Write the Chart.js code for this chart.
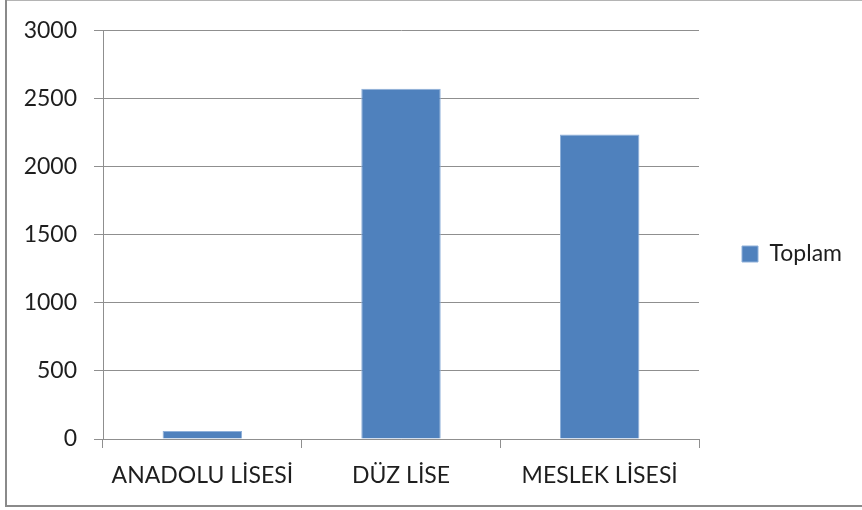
<!DOCTYPE html>
<html>
<head>
<meta charset="utf-8">
<script src="https://cdn.jsdelivr.net/npm/chart.js@4/dist/chart.umd.min.js"></script>
<style>
  html, body { margin: 0; padding: 0; background: #ffffff; }
  #wrap { width: 862px; height: 510px; position: relative; }
</style>
</head>
<body>
<div id="wrap"><canvas id="c" width="862" height="510"></canvas></div>
<script>
// Okul türlerine göre toplam öğrenci sayıları
const categories = ['ANADOLU LİSESİ', 'DÜZ LİSE', 'MESLEK LİSESİ'];
const seriesName = 'Toplam';
const toplam = [58, 2574, 2237];
const yTicks = [0, 500, 1000, 1500, 2000, 2500, 3000];

const FONT = { family: 'Lato, "Open Sans", sans-serif', size: 23 };
const TEXT = '#1e1e1e';
const GRID = '#8f8f8f';
const BAR = '#4f81bd';

// Legend sizing: box + half font gap + text + legend's internal 10px
const LEGEND_PAD = 43;
const BOX = 16;
const mctx = document.createElement('canvas').getContext('2d');
mctx.font = FONT.size + 'px ' + FONT.family;
const legendW = LEGEND_PAD + BOX + FONT.size / 2 + mctx.measureText(seriesName).width + 10;
const PLOT_RIGHT = 699;
const rightPad = Math.max(0, 862 - PLOT_RIGHT - legendW);

// Outer frame drawn around the chart; category labels may use the full lower band
const framePlugin = {
  id: 'frame',
  afterLayout(chart) {
    chart.scales.x.bottom = chart.height;
  },
  beforeDraw(chart) {
    const ctx = chart.ctx;
    ctx.save();
    ctx.fillStyle = '#ffffff';
    ctx.fillRect(0, 0, chart.width, chart.height);
    ctx.fillStyle = '#b4b4b4';
    ctx.fillRect(5, 0, chart.width - 5, 1);
    ctx.fillStyle = '#8a8a8a';
    ctx.fillRect(5, 0, 2, 507);
    ctx.fillRect(5, 505, chart.width - 5, 2);
    ctx.restore();
  }
};

new Chart(document.getElementById('c'), {
  type: 'bar',
  data: {
    labels: categories,
    datasets: [{
      label: seriesName,
      data: toplam,
      backgroundColor: BAR,
      borderColor: '#8fb0d9',
      borderWidth: 1,
      barPercentage: 0.4,
      categoryPercentage: 1.0
    }]
  },
  options: {
    responsive: false,
    animation: false,
    devicePixelRatio: 1,
    layout: { padding: { top: 29, left: 0, right: rightPad, bottom: 31 } },
    plugins: {
      legend: {
        position: 'right',
        align: 'center',
        labels: {
          boxWidth: BOX,
          boxHeight: BOX,
          padding: LEGEND_PAD,
          color: TEXT,
          font: FONT
        }
      },
      tooltip: { enabled: false },
      title: { display: false }
    },
    scales: {
      x: {
        offset: true,
        grid: {
          offset: true,
          drawOnChartArea: false,
          drawTicks: true,
          tickLength: 9,
          color: GRID,
          lineWidth: 1
        },
        border: { display: true, color: GRID, width: 1 },
        ticks: { color: TEXT, font: FONT, padding: 14, maxRotation: 0, autoSkip: false },
        afterFit(scale) { scale.height = 40; }
      },
      y: {
        min: yTicks[0],
        max: yTicks[yTicks.length - 1],
        afterBuildTicks(scale) { scale.ticks = yTicks.map(v => ({ value: v })); },
        grid: {
          drawOnChartArea: true,
          drawTicks: true,
          tickLength: 9,
          color: GRID,
          lineWidth: 1
        },
        border: { display: true, color: GRID, width: 1 },
        ticks: { color: TEXT, font: FONT, padding: 17, callback: v => String(v) },
        afterFit(scale) { scale.width = 103; }
      }
    }
  },
  plugins: [framePlugin]
});
</script>
</body>
</html>
